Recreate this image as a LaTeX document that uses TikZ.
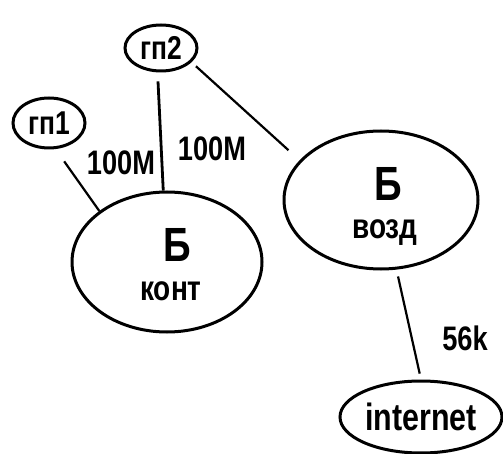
\documentclass[tikz,border=0pt]{standalone}
\usepackage{fontspec}
\setmainfont{Liberation Sans}[FakeStretch=0.8]
\usetikzlibrary{shapes.geometric}

\begin{document}
\begin{tikzpicture}[x=1pt,y=-1pt,
		host/.style={draw,ellipse,line width=3pt,inner sep=0pt,font=\bfseries\fontsize{33}{35}\selectfont},
		link/.style={line width=2.2pt},
		speed/.style={font=\bfseries\fontsize{34}{36}\selectfont},
		bigletter/.style={inner sep=0pt,font=\bfseries\fontsize{48}{50}\selectfont},
		smallname/.style={inner sep=0pt,font=\bfseries\fontsize{35}{37}\selectfont}]
		\useasboundingbox (0,0) rectangle (503,454);
		\node[host,minimum width=72pt,minimum height=50pt] (gpone) at (49,123) {гп1};
		\node[host,minimum width=72pt,minimum height=46pt] (gptwo) at (161,48) {гп2};
		\node[host,minimum width=190pt,minimum height=140pt] (bkont) at (167,262) {};
		\node[host,minimum width=194pt,minimum height=138pt] (bvozd) at (381,200) {};
		\node[host,minimum width=162pt,minimum height=72pt,font=\bfseries\fontsize{38}{40}\selectfont] (inet) at (421,417) {internet};
		%
		\node[bigletter] (kontletter) at (177,245) {Б};
		\node[smallname] (kontname) at (171,291) {конт};
		\node[bigletter] (vozdletter) at (388,184) {Б};
		\node[smallname] (vozdname) at (385,233) {возд};
		%
		\draw[link,shorten <=15pt] (gpone.-76) -- (bkont.143);
		\draw[link,line width=2.8pt,shorten <=9pt] (gptwo.262) -- (bkont.93);
		\draw[link,shorten <=6pt,shorten >=15pt] (gptwo.-25) -- (bvozd.154);
		\draw[link,shorten <=7pt,shorten >=6pt] (bvozd) -- (inet.north);
		%
		\node[speed] (spdone) at (121,163) {100M};
		\node[speed] (spdtwo) at (212,149) {100M};
		\node[speed] (spdthree) at (465,338) {56k};
	\end{tikzpicture}
\end{document}
